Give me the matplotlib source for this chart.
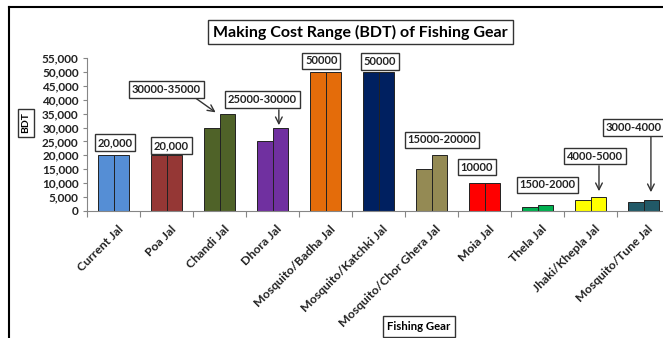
import matplotlib
matplotlib.use("Agg")
import matplotlib.pyplot as plt
from matplotlib.lines import Line2D
from matplotlib.ticker import FuncFormatter, FixedLocator
from matplotlib.transforms import ScaledTranslation

categories = ["Current Jal", "Poa Jal", "Chandi Jal", "Dhora Jal", "Mosquito/Badha Jal",
              "Mosquito/Katchki Jal", "Mosquito/Chor Ghera Jal", "Moia Jal", "Thela Jal",
              "Jhaki/Khepla Jal", "Mosquito/Tune Jal"]
min_cost = [20000, 20000, 30000, 25000, 50000, 50000, 15000, 10000, 1500, 4000, 3000]
max_cost = [20000, 20000, 35000, 30000, 50000, 50000, 20000, 10000, 2000, 5000, 4000]
colors = ["#558ED5", "#953735", "#4F6228", "#7030A0", "#E46C0A", "#002060",
          "#948A54", "#FF0000", "#00B050", "#FFFF00", "#215967"]
range_labels = ["20,000", "20,000", "30000-35000", "25000-30000", "50000", "50000",
                "15000-20000", "10000", "1500-2000", "4000-5000", "3000-4000"]

FONT = "Lato"
fig = plt.figure(figsize=(6.63, 3.38), dpi=100)
ax = fig.add_axes([87/663, (338-210.7)/338, 583/663, 152.4/338])

bw = 0.29
for i in range(len(categories)):
    c = i + 0.5
    ax.bar(c - bw/2, min_cost[i], width=bw, color=colors[i], edgecolor="#222222", linewidth=0.7)
    ax.bar(c + bw/2, max_cost[i], width=bw, color=colors[i], edgecolor="#222222", linewidth=0.7)

ax.set_xlim(0, len(categories))
ax.set_ylim(0, 55000)
ax.set_yticks(range(0, 55001, 5000))
ax.yaxis.set_major_formatter(FuncFormatter(lambda v, p: f"{int(v):,}"))
ax.set_xticks([i + 0.5 for i in range(len(categories))])
ax.set_xticklabels(categories, rotation=45, ha="right", va="top", rotation_mode="anchor",
                   fontsize=8.8, fontweight="bold", family=FONT)
ax.xaxis.set_minor_locator(FixedLocator(range(0, len(categories) + 1)))
ax.tick_params(axis="x", which="major", length=0, pad=9)
ax.tick_params(axis="x", which="minor", length=4, color="#868686", width=0.8)
ax.tick_params(axis="y", length=3, color="#868686", width=0.8, pad=3)
for lab in ax.get_yticklabels():
    lab.set_fontsize(8.5)
    lab.set_fontweight("bold")
    lab.set_family(FONT)
    lab.set_color("#222222")
shift = ScaledTranslation(4/100, 0, fig.dpi_scale_trans)
for lab in ax.get_xticklabels():
    lab.set_color("#222222")
    lab.set_transform(lab.get_transform() + shift)

for s in ["top", "right"]:
    ax.spines[s].set_visible(False)
for s in ["left", "bottom"]:
    ax.spines[s].set_color("#868686")
    ax.spines[s].set_linewidth(0.8)

box = dict(boxstyle="square,pad=0.25", facecolor="white", edgecolor="#333333", linewidth=1.0)
arrow = dict(arrowstyle="->", color="#333333", lw=1.0, mutation_scale=12)

# annotation positions (data coords): (text_x, text_y, arrow_start, arrow_end)
ann = [
    (0.53, 24600, None, None),
    (1.59, 23500, None, None),
    (1.50, 43740, (2.02, 41030), (2.47, 34900)),
    (3.31, 40130, (3.62, 37420), (3.62, 29850)),
    (4.42, 54030, None, None),
    (5.53, 53850, None, None),
    (6.70, 25520, None, None),
    (7.35, 15770, None, None),
    (8.69, 9280, None, None),
    (9.59, 19740, (9.66, 17220), (9.66, 6030)),
    (10.31, 30030, (10.64, 27680), (10.64, 5670)),
]
for i, (tx, ty, a0, a1) in enumerate(ann):
    if a0 is not None:
        ax.annotate("", xy=a1, xytext=a0, arrowprops=arrow, annotation_clip=False)
    ax.text(tx, ty, range_labels[i], ha="center", va="center", fontsize=8, fontweight="bold",
            family=FONT, bbox=box, clip_on=False, color="#222222", zorder=5)

fig.text(360.5/663, 1 - 32/338, "Making Cost Range (BDT) of Fishing Gear", ha="center", va="center",
         fontsize=11.5, fontweight="bold", family=FONT,
         bbox=dict(boxstyle="square,pad=0.3", facecolor="white", edgecolor="#333333", linewidth=1.0))
fig.text(26/663, 1 - 123/338, "BDT", rotation=90, ha="center", va="center", fontsize=7.5,
         fontweight="bold", family=FONT,
         bbox=dict(boxstyle="square,pad=0.3", facecolor="white", edgecolor="#333333", linewidth=1.0))
fig.text(419/663, 1 - 326.5/338, "Fishing Gear", ha="center", va="center", fontsize=8.2,
         fontweight="bold", family=FONT,
         bbox=dict(boxstyle="square,pad=0.4", facecolor="white", edgecolor="#333333", linewidth=1.0))

# outer frame (left and top visible)
fig.add_artist(Line2D([9/663, 9/663], [0, 1 - 7/338], transform=fig.transFigure, color="black", lw=1.5))
fig.add_artist(Line2D([9/663, 1], [1 - 7/338, 1 - 7/338], transform=fig.transFigure, color="black", lw=1.5))

fig.savefig("out.png", dpi=100)
